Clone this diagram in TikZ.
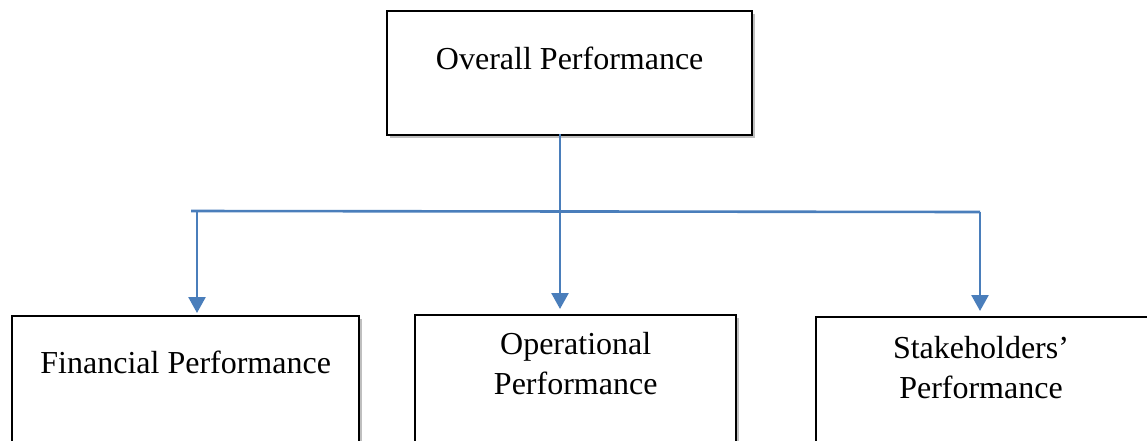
\documentclass[tikz,border=0pt]{standalone}
\usepackage{fontspec}
\setmainfont{Liberation Serif}
\usetikzlibrary{arrows.meta,shadows}
\definecolor{linkblue}{RGB}{74,126,187}
\begin{document}
\begin{tikzpicture}[x=1pt,y=-1pt,
  box/.style={draw=black, line width=2.4pt, fill=white, inner sep=0pt,
    drop shadow={shadow xshift=2.5pt, shadow yshift=-2.5pt, fill=black!50, opacity=0.5}},
  lbl/.style={font=\fontsize{32}{40}\selectfont, align=center, inner sep=0pt},
  conn/.style={draw=linkblue, line width=2.6pt},
  arr/.style={conn, -{Triangle[width=17pt,length=16pt]}}]
\useasboundingbox (0,0) rectangle (1147,440);
\node[box, minimum width=365, minimum height=124, anchor=north west] (top) at (386,10) {};
\node[box, minimum width=347, minimum height=140, anchor=north west] (fin) at (11,315) {};
\node[box, minimum width=321, minimum height=140, anchor=north west] (op) at (414,314) {};
\node[box, minimum width=360, minimum height=140, anchor=north west] (stk) at (815,316) {};
\node[lbl] (toptxt) at ([yshift=-48pt]top.north) {Overall Performance};
\node[lbl] (fintxt) at ([yshift=-47pt]fin.north) {Financial Performance};
\node[lbl, anchor=north] (optxt) at ([yshift=-18pt]op.north) {Operational\\Performance};
\node[lbl, anchor=north] (stktxt) at (981,336) {Stakeholders'\\Performance};
\coordinate (hl) at (191,211);
\coordinate (hr) at (980,212);
\coordinate (hfin) at (197,211);
\coordinate (hop) at (560,134);
\draw[conn] (hl) -- (hr);
\draw[arr, shorten >=5pt] (hop) -- (hop |- op.north);
\draw[arr, shorten >=2pt] (hfin) -- (hfin |- fin.north);
\draw[arr, shorten >=5pt] (hr) -- (hr |- stk.north);
\end{tikzpicture}
\end{document}
